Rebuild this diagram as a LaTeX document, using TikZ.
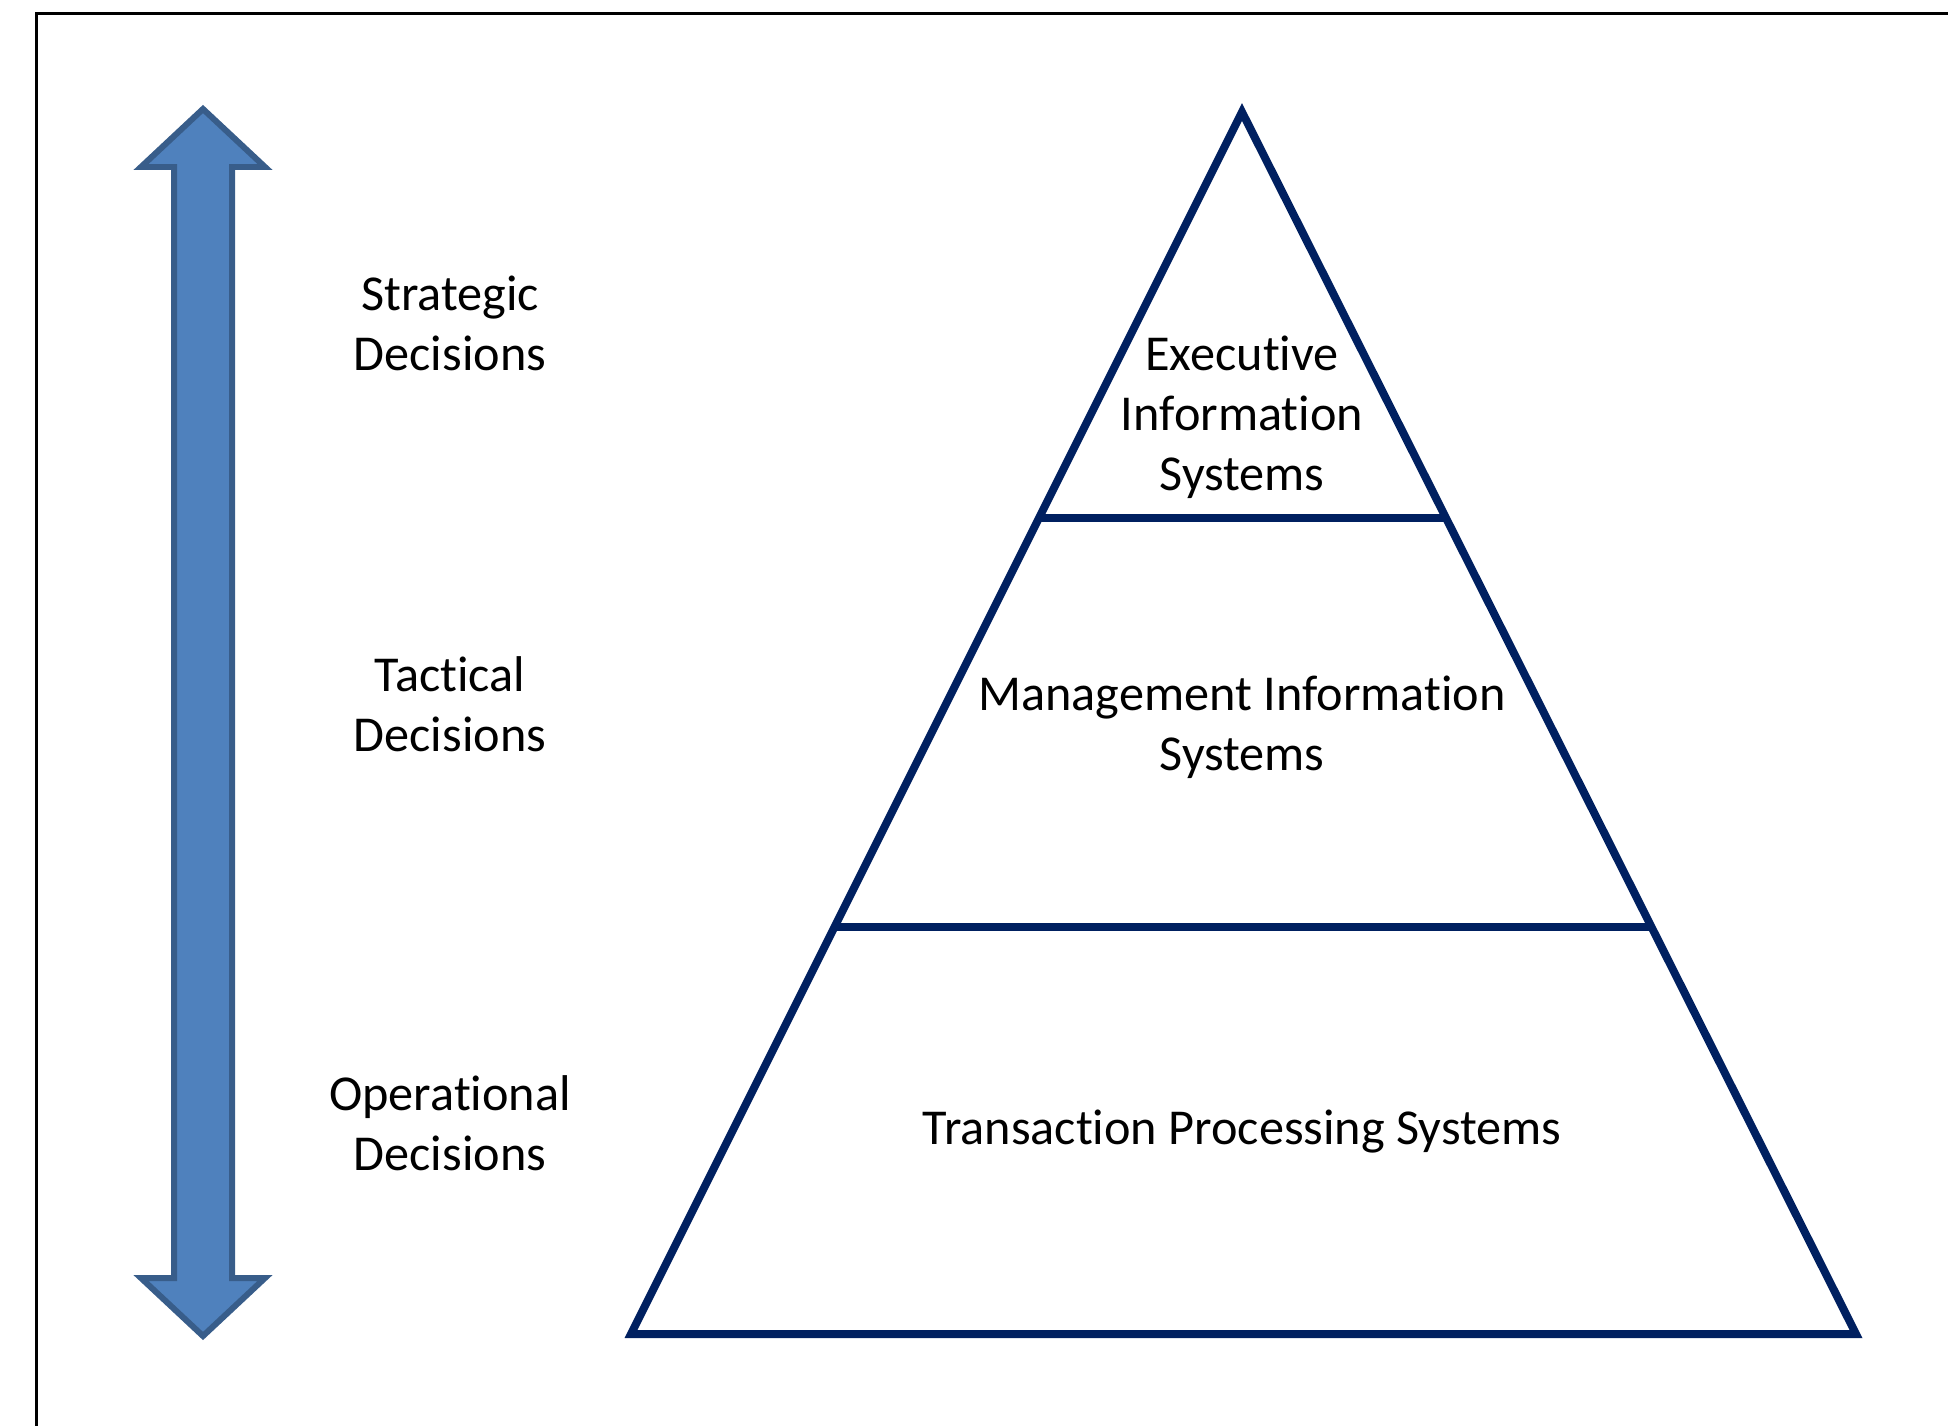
\documentclass[tikz,border=0pt]{standalone}
\usepackage{fontspec}
\setmainfont{Carlito}[Ligatures=NoCommon]
\usetikzlibrary{calc}
\definecolor{pyramidblue}{RGB}{0,32,96}
\definecolor{arrowfill}{RGB}{79,129,189}
\definecolor{arrowedge}{RGB}{56,93,138}
\begin{document}
\begin{tikzpicture}[x=0.02cm,y=-0.02cm,
  leveltext/.style={align=center,inner sep=0pt,font=\fontsize{28.6}{34.1}\selectfont},
  tier/.style={pyramidblue,line width=0.16cm}]
\useasboundingbox (0,0) rectangle (1948,1426);
\draw [line width=0.06cm] (36,1426) -- (36,14) -- (1948,14);
\draw [line width=0.12cm, arrowedge, fill=arrowfill] (203,109) -- (265,167) -- (232,167) -- (232,1278) -- (265,1278) -- (203,1336) -- (141,1278) -- (174,1278) -- (174,167) -- (141,167) -- cycle;
\coordinate (apex) at (1242,112);
\coordinate (bl) at (631,1334);
\coordinate (br) at (1856,1334);
\draw [tier] (apex) -- (br) -- (bl) -- cycle;
\draw [tier] ($(apex)!0.3322!(bl)$) -- ($(apex)!0.3322!(br)$);
\draw [tier] ($(apex)!0.667!(bl)$) -- ($(apex)!0.667!(br)$);
\node [leveltext] (strategic) at (450,323) {Strategic\\Decisions};
\node [leveltext] (tactical) at (450,704) {Tactical\\Decisions};
\node [leveltext] (operational) at (450,1123) {Operational\\Decisions};
\node [leveltext] (eis) at (1242,417) {Executive\\Information\\Systems};
\node [leveltext] (mis) at (1242,727) {Management Information\\Systems};
\node [leveltext] (tps) at (1242,1132) {Transaction Processing Systems};
\end{tikzpicture}
\end{document}
